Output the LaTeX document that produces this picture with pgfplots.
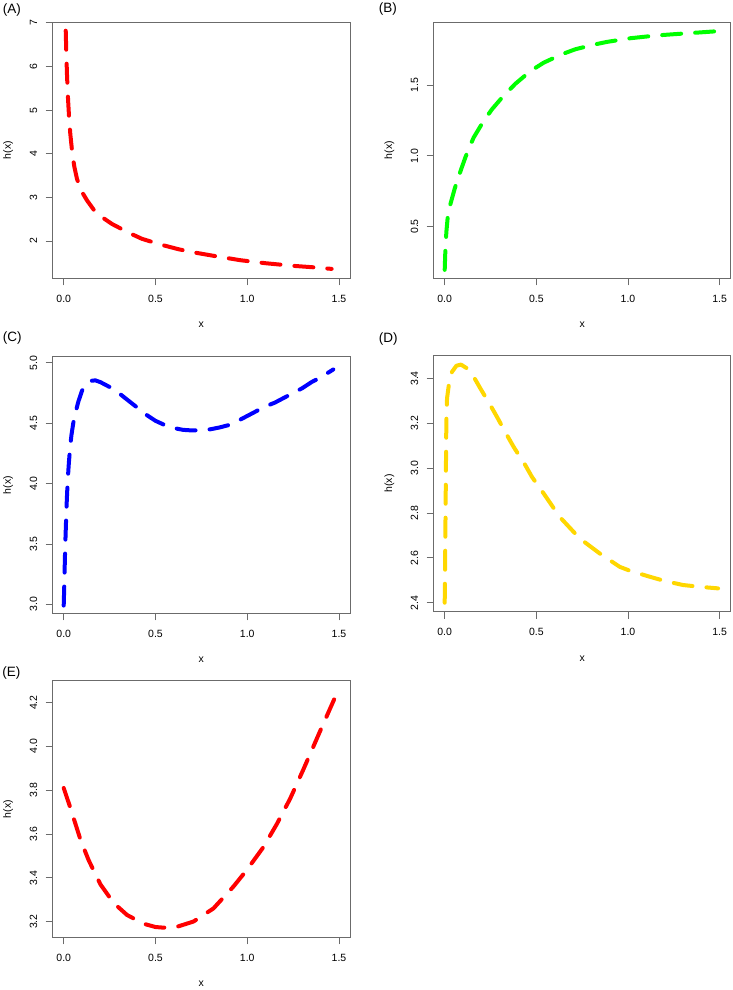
\documentclass[border=0pt]{standalone}
\usepackage{fontspec}
\setmainfont{Liberation Sans}
\usepackage{pgfplots}
\pgfplotsset{compat=1.18}
\definecolor{boxgray}{rgb}{0.42,0.42,0.42}
\definecolor{rred}{HTML}{FF0000}
\definecolor{rgreen}{HTML}{00FF00}
\definecolor{rblue}{HTML}{0000FF}
\definecolor{rgold}{HTML}{FFD700}
\pgfplotsset{
  every axis title shift=0pt,
  rstyle/.style={
    anchor=south west,
    scale only axis, width=297.3pt, height=256.5pt,
    xmin=-0.06, xmax=1.56,
    xtick={0,0.5,1,1.5}, xticklabels={0.0,0.5,1.0,1.5},
    tick align=outside, xtick pos=left, ytick pos=left,
    major tick length=7pt,
    axis line style={draw=boxgray, line width=0.9pt},
    every tick/.style={draw=boxgray, line width=0.9pt},
    /pgf/number format/assume math mode=true,
    tick label style={font=\fontsize{10.5}{12}\selectfont, text=black},
    xticklabel shift=6pt,
    yticklabel shift=5pt,
    yticklabel style={rotate=90, anchor=south},
    label style={font=\fontsize{10.5}{12}\selectfont},
    xlabel={x}, ylabel={h(x)},
    xlabel style={at={(axis description cs:0.5,-0.182)}, anchor=center},
    ylabel style={at={(axis description cs:-0.1495,0.5)}, anchor=center},
    title style={font=\fontsize{13.5}{16}\selectfont, anchor=west, inner sep=0pt, yshift=0pt},
  },
  rcurve/.style={no marks, line width=4pt, line cap=round, line join=round, dash pattern=on 19pt off 14pt},
}
\begin{document}
\begin{tikzpicture}
\path[use as bounding box] (0,0) rectangle (733pt,990pt);

% (A)
\begin{axis}[rstyle, at={(52.7pt,711.5pt)},
  ymin=1.14, ymax=7.02, ytick={2,3,4,5,6,7}, yticklabels={2,3,4,5,6,7},
  title={(A)}, title style={at={(axis description cs:-0.168,1.048)}}]
\addplot[rcurve, rred] coordinates {
(0.011,6.82) (0.0145,6.25) (0.018,5.80) (0.0236,5.25) (0.029,4.85) (0.036,4.45)
(0.047,4.00) (0.058,3.70) (0.0725,3.42) (0.10,3.12) (0.127,2.93) (0.163,2.72)
(0.20,2.57) (0.263,2.39) (0.354,2.19) (0.426,2.05) (0.526,1.92) (0.626,1.81)
(0.72,1.73) (0.816,1.66) (0.961,1.56) (1.10,1.49) (1.25,1.43) (1.35,1.40) (1.46,1.36)
};
\end{axis}

% (B)
\begin{axis}[rstyle, at={(433.7pt,711.5pt)}, width=297pt,
  ymin=0.132, ymax=1.948, ytick={0.5,1,1.5}, yticklabels={0.5,1.0,1.5},
  title={(B)}, title style={at={(axis description cs:-0.185,1.0487)}}]
\addplot[rcurve, rgreen] coordinates {
(0,0.193) (0.0036,0.33) (0.009,0.46) (0.016,0.56) (0.025,0.63) (0.04,0.70)
(0.055,0.77) (0.07,0.83) (0.091,0.91) (0.113,0.99) (0.131,1.05) (0.158,1.13)
(0.195,1.21) (0.222,1.265) (0.258,1.33) (0.304,1.40) (0.34,1.45) (0.385,1.51)
(0.467,1.60) (0.54,1.66) (0.64,1.72) (0.713,1.755) (0.822,1.79) (0.885,1.807)
(1.013,1.833) (1.10,1.845) (1.191,1.856) (1.30,1.866) (1.391,1.874) (1.50,1.884)
};
\end{axis}

% (C)
\begin{axis}[rstyle, at={(52.7pt,376.7pt)},
  ymin=2.926, ymax=5.05, ytick={3,3.5,4,4.5,5}, yticklabels={3.0,3.5,4.0,4.5,5.0},
  title={(C)}, title style={at={(axis description cs:-0.168,1.0717)}}]
\addplot[rcurve, rblue] coordinates {
(0.000,2.99) (0.003,3.15) (0.006,3.35) (0.009,3.52) (0.013,3.70) (0.017,3.87)
(0.022,4.03) (0.028,4.17) (0.035,4.30) (0.042,4.40) (0.052,4.50) (0.063,4.58)
(0.080,4.68) (0.100,4.77) (0.120,4.82) (0.145,4.85) (0.172,4.855) (0.200,4.84)
(0.250,4.80) (0.300,4.75) (0.350,4.69) (0.400,4.63) (0.450,4.57) (0.500,4.52)
(0.550,4.485) (0.600,4.46) (0.650,4.445) (0.700,4.44) (0.750,4.443) (0.800,4.45)
(0.850,4.465) (0.900,4.485) (0.950,4.52) (1.000,4.56) (1.050,4.60) (1.100,4.64)
(1.150,4.67) (1.200,4.71) (1.250,4.75) (1.300,4.79) (1.350,4.84) (1.400,4.88) (1.469,4.945)
};
\end{axis}

% (D)
\begin{axis}[rstyle, at={(433.7pt,378.3pt)}, width=297pt,
  ymin=2.36, ymax=3.504, ytick={2.4,2.6,2.8,3.0,3.2,3.4}, yticklabels={2.4,2.6,2.8,3.0,3.2,3.4},
  title={(D)}, title style={at={(axis description cs:-0.185,1.065)}}]
\addplot[rcurve, rgold] coordinates {
(0,2.40) (0.0018,2.537) (0.0036,2.70) (0.0055,2.88) (0.0073,3.058) (0.009,3.207)
(0.0127,3.311) (0.0236,3.378) (0.04,3.43) (0.064,3.457) (0.089,3.462) (0.122,3.445)
(0.155,3.412) (0.195,3.355) (0.249,3.281) (0.285,3.229) (0.34,3.147) (0.376,3.095)
(0.44,3.013) (0.476,2.961) (0.54,2.887) (0.627,2.783) (0.736,2.687) (0.845,2.62)
(0.955,2.56) (1.009,2.543) (1.118,2.516) (1.2,2.497) (1.3,2.479) (1.391,2.471) (1.491,2.464)
};
\end{axis}

% (E)
\begin{axis}[rstyle, at={(52.7pt,52.7pt)},
  ymin=3.128, ymax=4.30, ytick={3.2,3.4,3.6,3.8,4.0,4.2}, yticklabels={3.2,3.4,3.6,3.8,4.0,4.2},
  title={(E)}, title style={at={(axis description cs:-0.170,1.032)}}]
\addplot[rcurve, rred] coordinates {
(0.000,3.81) (0.036,3.72) (0.091,3.575) (0.136,3.48) (0.200,3.37) (0.272,3.285)
(0.345,3.23) (0.435,3.19) (0.500,3.175) (0.544,3.172) (0.617,3.176) (0.707,3.20)
(0.816,3.26) (0.925,3.36) (0.998,3.436) (1.088,3.54) (1.161,3.645) (1.233,3.76)
(1.306,3.895) (1.397,4.07) (1.500,4.265)
};
\end{axis}
\end{tikzpicture}
\end{document}
